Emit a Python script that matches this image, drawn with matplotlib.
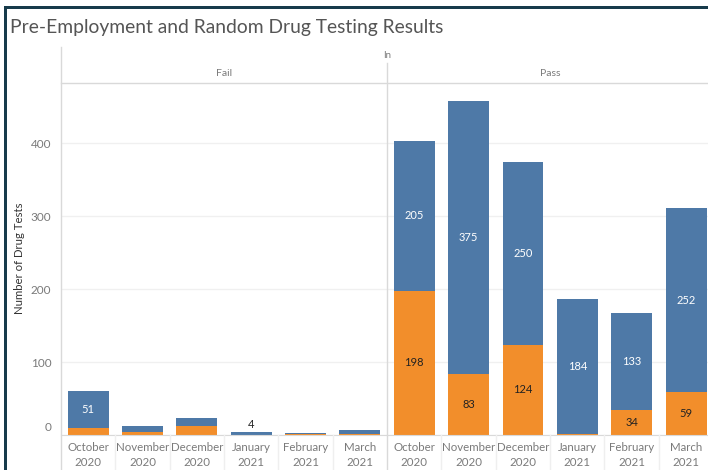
import matplotlib
matplotlib.use("Agg")
import matplotlib.pyplot as plt
import matplotlib.transforms as mtransforms
from matplotlib.patches import Rectangle
from matplotlib.lines import Line2D
import numpy as np

plt.rcParams['font.family'] = ['Lato', 'DejaVu Sans']

months = ["October\n2020", "November\n2020", "December\n2020",
          "January\n2021", "February\n2021", "March\n2021"]

# Stacked counts per result group: orange segment at the base, blue on top
fail_orange = [10, 4, 13, 0, 2, 1]
fail_blue = [51, 9, 10, 4, 1, 6]
pass_orange = [198, 83, 124, 2, 34, 59]
pass_blue = [205, 375, 250, 184, 133, 252]

# Which segment values get a printed label
fail_blue_labels = [True, False, False, True, False, False]
fail_orange_labels = [False] * 6
pass_blue_labels = [True] * 6
pass_orange_labels = [True, True, True, False, True, True]

BLUE = "#4e79a7"
ORANGE = "#f28e2b"
GRID = "#f0f0f0"
RULE = "#d9d9d9"
TICK = "#7a7a7a"

W, H = 708, 470
fig = plt.figure(figsize=(W / 100, H / 100), dpi=100)
fig.patch.set_facecolor("white")


def fx(px):
    return px / W


def fy(py):
    return 1 - py / H


x_left, x_mid, x_right = 61, 387, 713.4
y_top, y_base = 83, 435
ymax = (y_base - y_top) / 0.7295

ax_fail = fig.add_axes([fx(x_left), fy(y_base), fx(x_mid - x_left), fy(y_top) - fy(y_base)])
ax_pass = fig.add_axes([fx(x_mid), fy(y_base), fx(x_right - x_mid), fy(y_top) - fy(y_base)],
                       sharey=ax_fail)

panels = [
    (ax_fail, fail_orange, fail_blue, fail_orange_labels, fail_blue_labels),
    (ax_pass, pass_orange, pass_blue, pass_orange_labels, pass_blue_labels),
]

for ax, orange, blue, o_lab, b_lab in panels:
    x = np.arange(len(months))
    ax.set_xlim(-0.5, len(months) - 0.5)
    ax.set_ylim(0, ymax)
    ax.set_yticks([0, 100, 200, 300, 400])
    ax.yaxis.grid(True, color=GRID, linewidth=1)
    ax.set_axisbelow(True)
    ax.bar(x, orange, width=0.75, color=ORANGE, linewidth=0)
    ax.bar(x, blue, width=0.75, bottom=orange, color=BLUE, linewidth=0)
    for i in range(len(months)):
        if o_lab[i]:
            ax.text(x[i], orange[i] / 2, str(orange[i]), ha="center", va="center",
                    fontsize=8, color="#222222")
        if b_lab[i]:
            seg_h = blue[i] * 0.7295
            if seg_h >= 14:
                ax.text(x[i], orange[i] + blue[i] / 2, str(blue[i]), ha="center",
                        va="center", fontsize=8, color="white")
            else:
                ax.text(x[i], orange[i] + blue[i] + 3, str(blue[i]), ha="center",
                        va="bottom", fontsize=8, color="#222222")
    for s in ["top", "right", "left"]:
        ax.spines[s].set_visible(False)
    ax.spines["bottom"].set_color(RULE)
    ax.set_xticks(x)
    ax.set_xticklabels(months, fontsize=8.3, color=TICK, linespacing=1.4)
    ax.tick_params(axis="x", length=0, pad=5)
    ax.tick_params(axis="y", length=0)

ax_fail.tick_params(axis="y", labelsize=8.5, labelcolor=TICK, pad=7)
plt.setp(ax_pass.get_yticklabels(), visible=False)

# Lift the zero label off the baseline
zero_lbl = ax_fail.get_yticklabels()[0]
zero_lbl.set_transform(zero_lbl.get_transform() +
                       mtransforms.ScaledTranslation(0, 6 / 72, fig.dpi_scale_trans))

ax_fail.set_ylabel("Number of Drug Tests", fontsize=8.2, color="#333333")
ax_fail.yaxis.set_label_coords(-(x_left - 25) / (x_mid - x_left), (y_base - 258) / (y_base - y_top))

# Header rules and panel dividers
lines = [
    ((fx(x_left), fx(W)), (fy(y_top), fy(y_top))),
    ((fx(x_left), fx(x_left)), (fy(47), 0)),
    ((fx(x_mid), fx(x_mid)), (fy(63), 0)),
]
for xs, ys in lines:
    fig.add_artist(Line2D(xs, ys, color=RULE, linewidth=1, transform=fig.transFigure))

# Light separators between month labels
slot = (x_mid - x_left) / 6
for k in range(1, 12):
    xp = x_left + k * slot
    if abs(xp - x_mid) < 1:
        continue
    fig.add_artist(Line2D((fx(xp), fx(xp)), (fy(y_base), 0), color="#efefef",
                          linewidth=1, transform=fig.transFigure))

fig.text(fx(x_mid), fy(55.5), "In", ha="center", va="center", fontsize=7, color=TICK)
fig.text(fx((x_left + x_mid) / 2), fy(74), "Fail", ha="center", va="center", fontsize=7.5, color=TICK)
fig.text(fx((x_mid + x_right) / 2), fy(74), "Pass", ha="center", va="center", fontsize=7.5, color=TICK)

fig.text(fx(10), fy(27), "Pre-Employment and Random Drug Testing Results", ha="left",
         va="center", fontsize=13.9, color="#555555")

# Dashboard frame
BORDER = "#173b4b"
fig.add_artist(Rectangle((fx(4), fy(9)), fx(W), 3 / H, transform=fig.transFigure,
                         facecolor=BORDER, edgecolor="none"))
fig.add_artist(Rectangle((fx(4), 0), 3 / W, fy(6), transform=fig.transFigure,
                         facecolor=BORDER, edgecolor="none"))

fig.savefig("out.png", dpi=100, facecolor="white")
